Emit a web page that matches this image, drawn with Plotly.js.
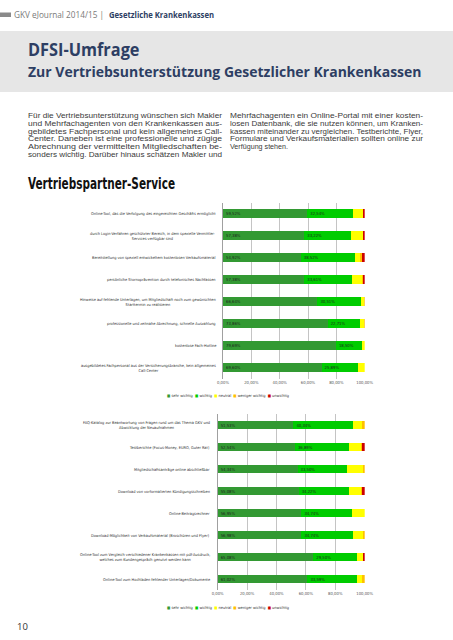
<!DOCTYPE html>
<html><head><meta charset="utf-8">
<script src="https://cdn.plot.ly/plotly-3.0.1.min.js"></script>
<style>
html,body{margin:0;padding:0;background:#fff;width:453px;height:640px;overflow:hidden;}
#chart{position:absolute;left:0;top:0;width:453px;height:640px;}
#page{position:absolute;left:0;top:0;pointer-events:none;}
</style></head>
<body>
<div id="chart"></div>
<svg id="page" width="453" height="640" xmlns="http://www.w3.org/2000/svg">
  <rect x="0" y="12.5" width="11" height="4.5" fill="#8a8a8a"/>
  <text x="14" y="18" font-family="Open Sans, sans-serif" font-size="8.5" fill="#7a7a7a" textLength="90" lengthAdjust="spacingAndGlyphs">GKV eJournal 2014/15 |</text>
  <text x="109" y="18" font-family="Open Sans, sans-serif" font-weight="bold" font-size="8.5" fill="#2d3e63" textLength="105" lengthAdjust="spacingAndGlyphs">Gesetzliche Krankenkassen</text>
  <rect x="0" y="31" width="453" height="61" fill="#e6e6e6"/>
  <text x="28" y="55.5" font-family="Open Sans, sans-serif" font-weight="bold" font-size="17" fill="#2d3e63" textLength="111.5" lengthAdjust="spacingAndGlyphs">DFSI-Umfrage</text>
  <text x="28" y="77" font-family="Open Sans, sans-serif" font-weight="bold" font-size="15" fill="#2d3e63" textLength="393.5" lengthAdjust="spacingAndGlyphs">Zur Vertriebsunterstützung Gesetzlicher Krankenkassen</text>
  <g font-family="Liberation Sans, Arial, sans-serif" font-size="6.7" fill="#3a3a3a">
    <text x="28" y="118.2" textLength="194" lengthAdjust="spacingAndGlyphs">Für die Vertriebsunterstützung wünschen sich Makler</text>
    <text x="28" y="125.9" textLength="194" lengthAdjust="spacingAndGlyphs">und Mehrfachagenten von den Krankenkassen aus-</text>
    <text x="28" y="133.6" textLength="194" lengthAdjust="spacingAndGlyphs">gebildetes Fachpersonal und kein allgemeines Call-</text>
    <text x="28" y="141.3" textLength="194" lengthAdjust="spacingAndGlyphs">Center. Daneben ist eine professionelle und zügige</text>
    <text x="28" y="149" textLength="194" lengthAdjust="spacingAndGlyphs">Abrechnung der vermittelten Mitgliedschaften be-</text>
    <text x="28" y="156.7" textLength="194" lengthAdjust="spacingAndGlyphs">sonders wichtig. Darüber hinaus schätzen Makler und</text>
    <text x="230" y="118.2" textLength="193" lengthAdjust="spacingAndGlyphs">Mehrfachagenten ein Online-Portal mit einer kosten-</text>
    <text x="230" y="125.9" textLength="193" lengthAdjust="spacingAndGlyphs">losen Datenbank, die sie nutzen können, um Kranken-</text>
    <text x="230" y="133.6" textLength="193" lengthAdjust="spacingAndGlyphs">kassen miteinander zu vergleichen. Testberichte, Flyer,</text>
    <text x="230" y="141.3" textLength="193" lengthAdjust="spacingAndGlyphs">Formulare und Verkaufsmaterialien sollten online zur</text>
    <text x="230" y="149" textLength="58" lengthAdjust="spacingAndGlyphs">Verfügung stehen.</text>
  </g>
  <text x="28" y="188.5" font-family="Liberation Sans Narrow, DejaVu Sans Condensed, sans-serif" font-weight="bold" font-size="16" fill="#111" textLength="147" lengthAdjust="spacingAndGlyphs">Vertriebspartner-Service</text>
  <text x="17" y="629.5" font-family="Open Sans, sans-serif" font-size="9.5" fill="#333">10</text>
</svg>
<script>
// ---- data ----
const cats1 = [
  "Online-Tool, das die Verfolgung des eingereichten Geschäfts ermöglicht",
  "durch Login-Verfahren geschützter Bereich, in dem spezielle Vermittler-<br>Services verfügbar sind",
  "Bereitstellung von speziell entwickeltem kostenlosen Verkaufsmaterial",
  "persönliche Stornoprävention durch telefonisches Nachfassen",
  "Hinweise auf fehlende Unterlagen, um Mitgliedschaft noch zum gewünschten<br>Starttermin zu realisieren",
  "professionelle und zeitnahe Abrechnung, schnelle Auszahlung",
  "kostenlose Fach-Hotline",
  "ausgebildetes Fachpersonal aus der Versicherungsbranche, kein allgemeines<br>Call-Center"
];
const sehrWichtig1   = [59.52, 57.38, 54.92, 57.38, 66.64, 73.86, 79.69, 69.60];
const wichtig1       = [32.54, 33.22, 38.52, 33.61, 30.51, 22.71, 18.50, 25.89];
const neutral1       = [6.98, 8.30, 3.28, 7.13, 2.50, 2.60, 1.81, 4.51];
const wenigerWichtig1= [0.00, 0.00, 1.64, 0.41, 0.35, 0.83, 0.00, 0.00];
const unwichtig1     = [0.96, 1.10, 1.64, 1.47, 0.00, 0.00, 0.00, 0.00];

const cats2 = [
  "FAQ-Katalog zur Beantwortung von Fragen rund um das Thema GKV und<br>Abwicklung der Neuaufnahmen",
  "Testberichte (Focus-Money, EURO, Guter Rat)",
  "Mitgliedschaftsanträge online abschließbar",
  "Download von vorformalierten Kündigungsschreiben",
  "Online-Beitragsrechner",
  "Download-Möglichkeit von Verkaufsmaterial (Broschüren und Flyer)",
  "Online-Tool zum Vergleich verschiedener Krankenkassen mit pdf-Ausdruck,<br>welches zum Kundengespräch genutzt werden kann",
  "Online-Tool zum Hochladen fehlender Unterlagen/Dokumente"
];
const sehrWichtig2   = [51.53, 52.54, 54.34, 55.08, 56.95, 56.98, 65.08, 61.02];
const wichtig2       = [40.34, 36.89, 33.50, 34.22, 34.74, 34.74, 29.50, 33.59];
const neutral2       = [6.30, 7.90, 11.30, 7.90, 8.31, 7.30, 4.40, 3.30];
const wenigerWichtig2= [1.83, 1.10, 0.86, 0.70, 0.00, 0.98, 0.00, 2.09];
const unwichtig2     = [0.00, 1.57, 0.00, 2.10, 0.00, 0.00, 1.02, 0.00];

const seriesNames = ["sehr wichtig", "wichtig", "neutral", "weniger wichtig", "unwichtig"];
const tickVals = [0, 20, 40, 60, 80, 100];
const tickLabels = ["0,00%", "20,00%", "40,00%", "60,00%", "80,00%", "100,00%"];

// ---- styles ----
const seriesColors = ["#339933", "#00cc00", "#ffff00", "#ffc000", "#cc0000"];
const NARROW = '"Liberation Sans Narrow", "DejaVu Sans Condensed", sans-serif';
const fmt = v => v.toFixed(2).replace('.', ',') + '%';

function makeTraces(cats, series, xa, ya) {
  return series.map((vals, i) => ({
    type: 'bar', orientation: 'h', name: seriesNames[i],
    y: cats, x: vals, xaxis: xa, yaxis: ya,
    marker: {color: seriesColors[i], line: {width: 0}},
    text: i < 2 ? vals.map(fmt) : undefined,
    textposition: i < 2 ? 'inside' : 'none',
    insidetextanchor: 'start',
    textangle: 0,
    constraintext: 'none',
    insidetextfont: {family: NARROW, size: 4.2, color: '#1e1e1e'},
    showlegend: false, hoverinfo: 'skip'
  }));
}

const traces = [
  ...makeTraces(cats1, [sehrWichtig1, wichtig1, neutral1, wenigerWichtig1, unwichtig1], 'x', 'y'),
  ...makeTraces(cats2, [sehrWichtig2, wichtig2, neutral2, wenigerWichtig2, unwichtig2], 'x2', 'y2')
];

const H = 640, W = 453;
function xAxis(x0, x1, anchor) {
  return {
    domain: [x0 / W, x1 / W], anchor: anchor, range: [0, 100], fixedrange: true,
    tickvals: tickVals, ticktext: tickLabels, ticks: '',
    tickfont: {family: NARROW, size: 4.2, color: '#555'},
    showgrid: true, gridcolor: '#c4c4c4', gridwidth: 1,
    zeroline: false, showline: false
  };
}
function yAxis(top, bottom, anchor) {
  return {
    domain: [1 - bottom / H, 1 - top / H], anchor: anchor, type: 'category',
    autorange: 'reversed', showticklabels: false, ticks: '', showgrid: false,
    zeroline: false, showline: true, linecolor: '#a0a0a0', linewidth: 1, fixedrange: true
  };
}

const annotations = [];
function addLabels(cats, xref, yref, shift) {
  cats.forEach(c => annotations.push({
    x: 0, y: c, xref: xref, yref: yref, xanchor: 'right', yanchor: 'middle',
    xshift: shift, align: 'center', showarrow: false, text: c,
    font: {family: NARROW, size: 3.9, color: '#333'}
  }));
}
addLabels(cats1, 'x', 'y', -5);
addLabels(cats2, 'x2', 'y2', -6);

const legendText = seriesNames.map((n, i) =>
  `<span style="color:${seriesColors[i]}">■</span> ${n}`).join('&nbsp;&nbsp;');
[395, 607].forEach(yy => annotations.push({
  x: 228 / W, y: 1 - yy / H, xref: 'paper', yref: 'paper', xanchor: 'center', yanchor: 'middle',
  showarrow: false, text: legendText, font: {family: NARROW, size: 3.9, color: '#333'}
}));

const layout = {
  width: W, height: H, margin: {l: 0, r: 0, t: 0, b: 0},
  paper_bgcolor: 'rgba(0,0,0,0)', plot_bgcolor: 'rgba(0,0,0,0)',
  barmode: 'stack', bargap: 0.6, showlegend: false,
  xaxis: xAxis(223, 364.7, 'y'),
  yaxis: yAxis(202.7, 378.5, 'x'),
  xaxis2: xAxis(217.7, 364.7, 'y2'),
  yaxis2: yAxis(414, 590, 'x2'),
  annotations: annotations
};

Plotly.newPlot('chart', traces, layout, {staticPlot: true, displayModeBar: false});
</script>
</body></html>
